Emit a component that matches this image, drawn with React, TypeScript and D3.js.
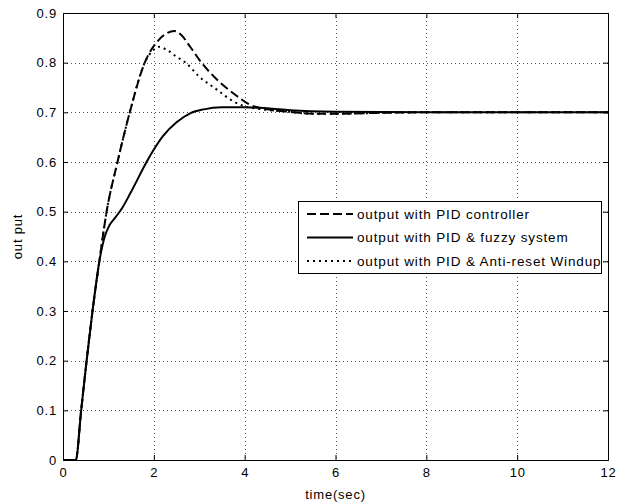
import React, { useEffect, useRef } from "react";
import * as d3 from "d3";

// time (sec) / output values
const pidT = [0, 0.28, 0.4, 0.52, 0.65, 0.8, 0.96, 1.2, 1.47, 1.8, 2.1, 2.3, 2.45, 2.6, 2.8, 3.05, 3.4, 3.8, 4.1, 4.5, 5, 5.5, 6, 7, 8, 10, 12];
const pidV = [0, 0, 0.1, 0.2, 0.3, 0.4, 0.5, 0.6, 0.7, 0.8, 0.845, 0.86, 0.864, 0.856, 0.832, 0.8, 0.765, 0.735, 0.716, 0.706, 0.701, 0.697, 0.697, 0.699, 0.7, 0.7, 0.7];

const fuzzyT = [0, 0.28, 0.4, 0.52, 0.65, 0.8, 0.92, 1.02, 1.15, 1.3, 1.5, 1.84, 2.0, 2.2, 2.5, 2.8, 3.1, 3.5, 4, 4.5, 5, 6, 8, 10, 12];
const fuzzyV = [0, 0, 0.1, 0.2, 0.3, 0.4, 0.45, 0.472, 0.488, 0.507, 0.54, 0.6, 0.625, 0.652, 0.68, 0.698, 0.706, 0.71, 0.71, 0.708, 0.704, 0.701, 0.7, 0.7, 0.7];

const windupT = [0, 0.28, 0.4, 0.52, 0.65, 0.8, 0.96, 1.2, 1.47, 1.8, 2.0, 2.1, 2.3, 2.5, 2.7, 3.0, 3.4, 3.75, 4.0, 4.3, 5, 5.5, 6, 7, 8, 10, 12];
const windupV = [0, 0, 0.1, 0.2, 0.3, 0.4, 0.5, 0.6, 0.7, 0.8, 0.826, 0.832, 0.825, 0.812, 0.8, 0.772, 0.745, 0.722, 0.712, 0.707, 0.701, 0.697, 0.697, 0.699, 0.7, 0.7, 0.7];

const xTicks = [0, 2, 4, 6, 8, 10, 12];
const yTicks = [0, 0.1, 0.2, 0.3, 0.4, 0.5, 0.6, 0.7, 0.8, 0.9];

const legendLabels = [
  "output with PID controller",
  "output with PID & fuzzy system",
  "output with PID & Anti-reset Windup",
];

const App = () => {
  const svgRef = useRef(null);
  const svgWidth = 623;
  const svgHeight = 504;

  useEffect(() => {
    const margin = { top: 13, right: 15, bottom: 44, left: 63 };
    const innerWidth = svgWidth - margin.left - margin.right;
    const innerHeight = svgHeight - margin.top - margin.bottom;
    const font = "Liberation Sans, Arial, sans-serif";

    const svg = d3.select(svgRef.current).attr("width", svgWidth).attr("height", svgHeight);
    svg.selectAll("*").remove();

    const xScale = d3.scaleLinear().domain([0, 12]).range([0, innerWidth]);
    const yScale = d3.scaleLinear().domain([0, 0.9]).range([innerHeight, 0]);

    const g = svg.append("g").attr("transform", `translate(${margin.left},${margin.top})`);

    g.append("rect").attr("width", innerWidth).attr("height", innerHeight).attr("fill", "white");

    // dotted grid
    const grid = g.append("g").attr("stroke", "#555").attr("stroke-width", 1).attr("stroke-dasharray", "1,3");
    grid.selectAll(".vx")
      .data(xTicks.slice(1, -1))
      .enter()
      .append("line")
      .attr("x1", (d) => Math.round(xScale(d)) + 0.5)
      .attr("x2", (d) => Math.round(xScale(d)) + 0.5)
      .attr("y1", 0)
      .attr("y2", innerHeight);
    grid.selectAll(".hy")
      .data(yTicks.slice(1, -1))
      .enter()
      .append("line")
      .attr("y1", (d) => Math.round(yScale(d)) + 0.5)
      .attr("y2", (d) => Math.round(yScale(d)) + 0.5)
      .attr("x1", 0)
      .attr("x2", innerWidth);

    // axes
    const xAxis = d3.axisBottom(xScale).tickValues(xTicks).tickSize(-5).tickPadding(8).tickFormat(d3.format("d"));
    const yAxis = d3.axisLeft(yScale).tickValues(yTicks).tickSize(-5).tickPadding(6).tickFormat((d) => (d === 0 ? "0" : d3.format(".1f")(d)));

    const xAxisG = g.append("g").attr("transform", `translate(0,${innerHeight})`).call(xAxis);
    const yAxisG = g.append("g").call(yAxis);
    const xTop = g.append("g").call(d3.axisTop(xScale).tickValues(xTicks).tickSize(-5).tickFormat(() => ""));
    const yRight = g.append("g").attr("transform", `translate(${innerWidth},0)`).call(d3.axisRight(yScale).tickValues(yTicks).tickSize(-5).tickFormat(() => ""));

    [xAxisG, yAxisG, xTop, yRight].forEach((a) => {
      a.select(".domain").remove();
      a.selectAll("line").attr("stroke", "#000");
      a.selectAll("text").attr("font-family", font).attr("font-size", 13).attr("fill", "#000").style("letter-spacing", "0.8px");
    });

    g.append("rect")
      .attr("x", 0.5)
      .attr("y", 0.5)
      .attr("width", innerWidth)
      .attr("height", innerHeight)
      .attr("fill", "none")
      .attr("stroke", "#000");

    // curves
    const line = d3
      .line()
      .x((d) => xScale(d[0]))
      .y((d) => yScale(d[1]))
      .curve(d3.curveMonotoneX);

    const series = [
      { t: pidT, v: pidV, dash: "9,4" },
      { t: fuzzyT, v: fuzzyV, dash: null },
      { t: windupT, v: windupV, dash: "2,4" },
    ];

    series.forEach((s) => {
      g.append("path")
        .datum(s.t.map((t, i) => [t, s.v[i]]))
        .attr("d", line)
        .attr("fill", "none")
        .attr("stroke", "#000")
        .attr("stroke-width", 2)
        .attr("stroke-dasharray", s.dash);
    });

    // legend
    const lg = svg.append("g");
    lg.append("rect")
      .attr("x", 298.5)
      .attr("y", 201.5)
      .attr("width", 303)
      .attr("height", 72)
      .attr("fill", "white")
      .attr("stroke", "#000");

    legendLabels.forEach((label, i) => {
      const y = 214 + i * 23.5;
      lg.append("line")
        .attr("x1", 307)
        .attr("x2", 353)
        .attr("y1", y)
        .attr("y2", y)
        .attr("stroke", "#000")
        .attr("stroke-width", 2)
        .attr("stroke-dasharray", series[i].dash);
      lg.append("text")
        .attr("x", 357)
        .attr("y", y)
        .attr("dy", "0.35em")
        .attr("font-family", font)
        .attr("font-size", 13.5)
        .style("letter-spacing", "0.85px")
        .text(label);
    });

    // axis labels
    svg.append("text")
      .attr("x", margin.left + innerWidth / 2)
      .attr("y", 499)
      .attr("text-anchor", "middle")
      .attr("font-family", font)
      .attr("font-size", 13)
      .style("letter-spacing", "0.8px")
      .text("time(sec)");

    svg.append("text")
      .attr("transform", `translate(22,${margin.top + innerHeight / 2}) rotate(-90)`)
      .attr("text-anchor", "middle")
      .attr("font-family", font)
      .attr("font-size", 13)
      .style("letter-spacing", "0.8px")
      .text("out put");
  }, []);

  return (
    <div style={{ position: "absolute", left: 0, top: 0, background: "white" }}>
      <svg ref={svgRef} style={{ display: "block" }}></svg>
    </div>
  );
};

export default App;
